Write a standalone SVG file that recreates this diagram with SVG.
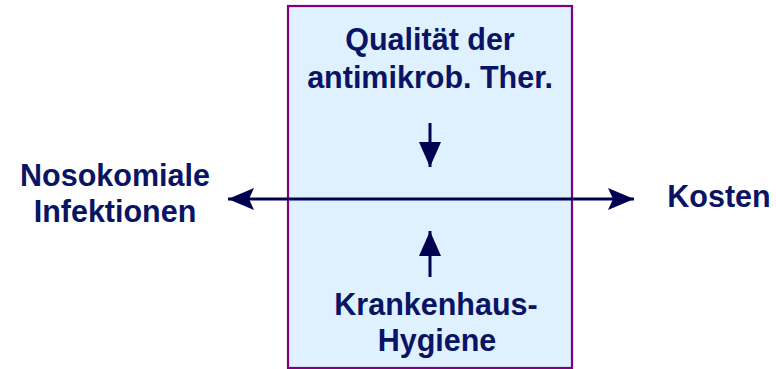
<svg xmlns="http://www.w3.org/2000/svg" width="776" height="369" viewBox="0 0 776 369">
<defs>
<style>
.t{font-family:"Liberation Sans",Arial,sans-serif;font-weight:bold;font-size:30.5px;fill:#0a1464;text-anchor:middle}
.c{stroke:#000050;stroke-width:3;fill:none}
</style>
<marker id="ah" viewBox="0 0 26 22" refX="26" refY="11" markerWidth="26" markerHeight="22" markerUnits="userSpaceOnUse" orient="auto-start-reverse">
<path d="M0,0 L26,11 L0,22 L5,11 Z" fill="#000050"/>
</marker>
<marker id="ah2" viewBox="0 0 25 22" refX="25" refY="11" markerWidth="25" markerHeight="22" markerUnits="userSpaceOnUse" orient="auto">
<path d="M0,0 L25,11 L0,22 Z" fill="#000050"/>
</marker>
</defs>
<rect width="776" height="369" fill="#ffffff"/>
<g id="box">
<rect x="288" y="6" width="284" height="362" fill="#dff0ff" stroke="#800080" stroke-width="2.2"/>
</g>
<g id="qualitaet">
<text class="t" x="430" y="50">Qualität der</text>
<text class="t" x="430" y="88">antimikrob. Ther.</text>
</g>
<g id="hygiene">
<text class="t" x="436" y="315">Krankenhaus-</text>
<text class="t" x="437" y="351">Hygiene</text>
</g>
<g id="nosokomial">
<text class="t" x="115" y="186">Nosokomiale</text>
<text class="t" x="115" y="222">Infektionen</text>
</g>
<g id="kosten">
<text class="t" x="719" y="207">Kosten</text>
</g>
<g id="connectors">
<line class="c" x1="228" y1="199" x2="634" y2="199" marker-start="url(#ah)" marker-end="url(#ah)"/>
<line class="c" x1="430" y1="123" x2="430" y2="167" marker-end="url(#ah2)"/>
<line class="c" x1="430" y1="277" x2="430" y2="231" marker-end="url(#ah2)"/>
</g>
</svg>
